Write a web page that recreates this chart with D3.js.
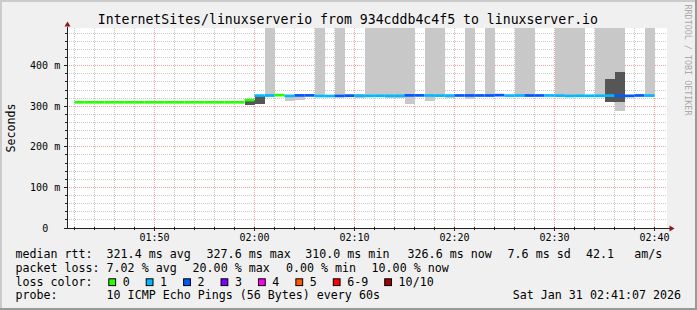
<!DOCTYPE html>
<html>
<head>
<meta charset="utf-8">
<script src="https://cdn.jsdelivr.net/npm/d3@7"></script>
<style>
  html, body { margin: 0; padding: 0; background: #f0f0f0; }
  svg { display: block; }
  text { font-family: 'DejaVu Sans Mono', monospace; white-space: pre; fill: #000; }
</style>
</head>
<body>
<svg id="chart" width="697" height="310"></svg>
<script>
'use strict'

// one value per minute, starting 01:42
const firstMinute = new Date(2026, 0, 31, 1, 42)

const medianMs = [
  310, 310, 310, 310, 310, 310, 310, 310, 310, 310, 310, 310, 310, 310, 310, 310, 310, // 01:42 - 01:58
  315.5, // 01:59
  326.5, 326.8, 327.6, 325.8, 327.0, 327.0, 325.5, 325.5, 325.6, 326.2, // 02:00 - 02:09
  326.2, 325.8, 326.0, 326.0, 326.0, 327.0, 327.0, 326.8, 326.5, 326.5, // 02:10 - 02:19
  326.8, 326.8, 326.8, 326.8, 327.5, 326.5, 326.8, 326.8, 326.8, 326.8, // 02:20 - 02:29
  326.5, 325.6, 326.0, 326.0, 326.0, 326.5, 326.0, 325.8, 326.8, 326.6  // 02:30 - 02:39
]

// lost pings out of 10
const lossCount = [
  0, 0, 0, 0, 0, 0, 0, 0, 0, 0, 0, 0, 0, 0, 0, 0, 0,
  0,
  1, 1, 0, 1, 2, 2, 1, 1, 2, 2,
  1, 1, 1, 1, 1, 2, 2, 1, 1, 1,
  2, 2, 2, 2, 2, 1, 1, 2, 2, 1,
  1, 1, 1, 1, 1, 1, 2, 2, 2, 1
]

// light smoke (ping spread), ms
const smokeLo = [
  null, null, null, null, null, null, null, null, null, null, null, null, null, null, null, null, null,
  null,
  null, 323, null, 313.8, 315.5, null, 322, null, 322, 323,
  321, 322, 322, 320, 320, 305.7, null, 313.8, 322, 321,
  null, 317.2, null, 322, null, null, 322, 322, null, null,
  322, 322, 322, null, 322, 322, 289, 322, null, 322
]
const smokeHi = [
  null, null, null, null, null, null, null, null, null, null, null, null, null, null, null, null, null,
  null,
  null, 500, null, 326, 327, null, 500, null, 500, 330,
  330, 500, 500, 500, 500, 500, null, 500, 500, 327,
  null, 500, null, 500, null, null, 500, 500, null, null,
  500, 500, 500, null, 500, 500, 500, 327.5, null, 500
]

// dense smoke, ms
const darkLo = [
  null, null, null, null, null, null, null, null, null, null, null, null, null, null, null, null, null,
  303.2,
  305.7, null, null, null, null, null, null, null, null, null,
  null, null, null, null, null, null, null, null, null, null,
  null, null, null, null, null, null, null, null, null, null,
  null, null, null, null, null, 311.3, 311.3, null, null, null
]
const darkHi = [
  null, null, null, null, null, null, null, null, null, null, null, null, null, null, null, null, null,
  316,
  326, null, null, null, null, null, null, null, null, null,
  null, null, null, null, null, null, null, null, null, null,
  null, null, null, null, null, null, null, null, null, null,
  null, null, null, null, null, 366.5, 383.8, null, null, null
]

const yTicks = [0, 100, 200, 300, 400]
const yTickLabels = ['0  ', '100 m', '200 m', '300 m', '400 m']

const lossLabels = ['0', '1', '2', '3', '4', '5', '6-9', '10/10']
const lossColors = ['#26ff00', '#00b8ff', '#0059ff', '#7e00ff', '#ff00ef', '#ff5a00', '#ff0000', '#a10000']

const titleText = 'InternetSites/linuxserverio from 934cddb4c4f5 to linuxserver.io'
const rttItems = ['median rtt:', '321.4 ms avg', '327.6 ms max', '310.0 ms min', '326.6 ms now', '7.6 ms sd', '42.1', 'am/s']
const lossItems = ['packet loss:', '7.02 % avg', '20.00 % max', '0.00 % min', '10.00 % now']
const probeItems = ['probe:', '10 ICMP Echo Pings (56 Bytes) every 60s']
const stampText = 'Sat Jan 31 02:41:07 2026'

const width = 697
const height = 310
const svg = d3.select('#chart')

const x = d3.scaleTime()
  .domain([new Date(2026, 0, 31, 1, 41, 15), new Date(2026, 0, 31, 2, 41, 15)])
  .range([67, 667])
const y = d3.scaleLinear()
  .domain([0, 493])
  .range([228, 28])

const minutes = medianMs.map((d, i) => d3.timeMinute.offset(firstMinute, i))
const rows = minutes.map((t, i) => ({
  t0: t,
  t1: d3.timeMinute.offset(t, 1),
  median: medianMs[i],
  loss: lossCount[i],
  lo: smokeLo[i],
  hi: smokeHi[i],
  dlo: darkLo[i],
  dhi: darkHi[i]
}))

function lossColor (n) {
  if (n <= 5) return lossColors[n]
  if (n < 10) return lossColors[6]
  return lossColors[7]
}

// frame
svg.append('rect').attr('width', width).attr('height', height).attr('fill', '#f0f0f0')
svg.append('rect').attr('x', 0).attr('y', 0).attr('width', width).attr('height', 2).attr('fill', '#cbcbcb')
svg.append('rect').attr('x', 0).attr('y', 0).attr('width', 2).attr('height', height).attr('fill', '#cbcbcb')
svg.append('rect').attr('x', 0).attr('y', height - 2).attr('width', width).attr('height', 2).attr('fill', '#999')
svg.append('rect').attr('x', width - 2).attr('y', 0).attr('width', 2).attr('height', height).attr('fill', '#999')

const [x0, x1] = x.range()
const [yb, yt] = y.range()

svg.append('rect')
  .attr('x', x0).attr('y', yt)
  .attr('width', x1 - x0).attr('height', yb - yt)
  .attr('fill', '#fff')

// grid
const grid = svg.append('g').attr('shape-rendering', 'crispEdges')
const crisp = v => Math.floor(v) + 0.5

const minorX = d3.timeMinute.every(2).range(...x.domain())
const majorX = d3.timeMinute.every(10).range(...x.domain())
const minorY = d3.range(20, 493, 20).filter(v => v % 100 !== 0)

grid.selectAll('.vx')
  .data(minorX.filter(t => t.getMinutes() % 10 !== 0))
  .enter().append('line')
  .attr('x1', d => crisp(x(d))).attr('x2', d => crisp(x(d)))
  .attr('y1', yt).attr('y2', yb)
  .attr('stroke', '#c8c8c8').attr('stroke-dasharray', '1,1')

grid.selectAll('.hy')
  .data(minorY)
  .enter().append('line')
  .attr('x1', x0).attr('x2', x1)
  .attr('y1', d => crisp(y(d))).attr('y2', d => crisp(y(d)))
  .attr('stroke', '#c8c8c8').attr('stroke-dasharray', '1,1')

grid.selectAll('.mx')
  .data(majorX)
  .enter().append('line')
  .attr('x1', d => crisp(x(d))).attr('x2', d => crisp(x(d)))
  .attr('y1', yt).attr('y2', yb)
  .attr('stroke', '#f2a0a0').attr('stroke-dasharray', '1,1')

grid.selectAll('.my')
  .data(yTicks.filter(v => v > 0))
  .enter().append('line')
  .attr('x1', x0).attr('x2', x1)
  .attr('y1', d => crisp(y(d))).attr('y2', d => crisp(y(d)))
  .attr('stroke', '#f2a0a0').attr('stroke-dasharray', '1,1')

// smoke
svg.append('clipPath').attr('id', 'plot')
  .append('rect').attr('x', x0).attr('y', yt).attr('width', x1 - x0).attr('height', yb - yt)

const plot = svg.append('g').attr('clip-path', 'url(#plot)').attr('shape-rendering', 'crispEdges')

plot.selectAll('.smoke')
  .data(rows.filter(d => d.lo !== null))
  .enter().append('rect')
  .attr('x', d => x(d.t0))
  .attr('width', d => x(d.t1) - x(d.t0))
  .attr('y', d => y(d.hi))
  .attr('height', d => y(d.lo) - y(d.hi))
  .attr('fill', '#c8c8c8')

plot.selectAll('.dark')
  .data(rows.filter(d => d.dlo !== null))
  .enter().append('rect')
  .attr('x', d => x(d.t0))
  .attr('width', d => x(d.t1) - x(d.t0))
  .attr('y', d => y(d.dhi))
  .attr('height', d => y(d.dlo) - y(d.dhi))
  .attr('fill', '#565656')

// median rtt, coloured by loss
plot.selectAll('.median')
  .data(rows)
  .enter().append('rect')
  .attr('x', d => x(d.t0))
  .attr('width', d => x(d.t1) - x(d.t0))
  .attr('y', d => y(d.median) - 1.3)
  .attr('height', 2.7)
  .attr('fill', d => lossColor(d.loss))
  .attr('shape-rendering', 'auto')

// axes
const axis = svg.append('g').attr('shape-rendering', 'crispEdges')
axis.append('line')
  .attr('x1', x0 - 0.5).attr('x2', x1 + 3)
  .attr('y1', yb + 0.5).attr('y2', yb + 0.5)
  .attr('stroke', '#222')
axis.append('line')
  .attr('x1', x0 + 0.5).attr('x2', x0 + 0.5)
  .attr('y1', yb + 0.5).attr('y2', yt - 1)
  .attr('stroke', '#222')

axis.selectAll('.tx')
  .data(minorX)
  .enter().append('line')
  .attr('x1', d => crisp(x(d))).attr('x2', d => crisp(x(d)))
  .attr('y1', yb - 1).attr('y2', d => yb + (d.getMinutes() % 10 === 0 ? 3 : 2))
  .attr('stroke', '#222')

axis.selectAll('.ty')
  .data(minorY.concat(yTicks))
  .enter().append('line')
  .attr('x1', d => x0 - (d % 100 === 0 ? 3 : 2)).attr('x2', x0 + 1)
  .attr('y1', d => crisp(y(d))).attr('y2', d => crisp(y(d)))
  .attr('stroke', '#222')

svg.append('path')
  .attr('d', `M${x0 + 0.5},${yt - 6.5}L${x0 - 2.5},${yt - 1.5}L${x0 + 3.5},${yt - 1.5}Z`)
  .attr('fill', '#8b1818')
svg.append('path')
  .attr('d', `M${x1 + 7.5},${yb + 0.5}L${x1 + 2.5},${yb - 2.5}L${x1 + 2.5},${yb + 3.5}Z`)
  .attr('fill', '#8b1818')

// axis labels
const fmt = d3.timeFormat('%H:%M')
svg.selectAll('.xl')
  .data(majorX)
  .enter().append('text')
  .attr('x', d => x(d))
  .attr('y', 240.5)
  .attr('text-anchor', 'middle')
  .attr('font-size', 10)
  .text(fmt)

svg.selectAll('.yl')
  .data(yTicks)
  .enter().append('text')
  .attr('x', 60.2)
  .attr('y', d => y(d) + 3.6)
  .attr('text-anchor', 'end')
  .attr('font-size', 10)
  .text((d, i) => yTickLabels[i])

svg.append('text')
  .attr('transform', `translate(14.8,${(yt + yb) / 2}) rotate(-90)`)
  .attr('text-anchor', 'middle')
  .attr('font-size', 11.65)
  .text('Seconds')

svg.append('text')
  .attr('x', 347.9)
  .attr('y', 24)
  .attr('text-anchor', 'middle')
  .attr('font-size', 13.2)
  .text(titleText)

svg.append('text')
  .attr('transform', 'translate(685.3,4.5) rotate(90)')
  .attr('font-size', 8.4)
  .style('fill', '#aaa')
  .text('RRDTOOL / TOBI OETIKER')

// legend
const legendFont = 11.65
const charW = legendFont * 0.602
const lineY = [258, 271.8, 285.6, 299.3]

const rttX = [15.5, 106.6, 206.6, 305.3, 407.6, 507.6, 586, 634.3]
svg.selectAll('.rtt')
  .data(rttItems)
  .enter().append('text')
  .attr('x', (d, i) => rttX[i])
  .attr('y', lineY[0])
  .attr('font-size', legendFont)
  .text(d => d)

const lossX = [15.5, 106.6, 192.6, 286, 371.6]
svg.selectAll('.loss')
  .data(lossItems)
  .enter().append('text')
  .attr('x', (d, i) => lossX[i])
  .attr('y', lineY[1])
  .attr('font-size', legendFont)
  .text(d => d)

svg.append('text')
  .attr('x', 15.5).attr('y', lineY[2])
  .attr('font-size', legendFont)
  .text('loss color:')

let boxX = 108.3
lossLabels.forEach((label, i) => {
  svg.append('rect')
    .attr('x', boxX + 0.5).attr('y', 278.8)
    .attr('width', 6.8).attr('height', 6.8)
    .attr('fill', lossColors[i])
    .attr('stroke', '#000')
    .attr('stroke-width', 1)
  const lx = boxX + 14.4
  svg.append('text')
    .attr('x', lx).attr('y', lineY[2])
    .attr('font-size', legendFont)
    .text(label)
  boxX = lx + label.length * charW + 16
})

svg.selectAll('.probe')
  .data(probeItems)
  .enter().append('text')
  .attr('x', (d, i) => [15.5, 106.6][i])
  .attr('y', lineY[3])
  .attr('font-size', legendFont)
  .text(d => d)

svg.append('text')
  .attr('x', 681).attr('y', lineY[3])
  .attr('text-anchor', 'end')
  .attr('font-size', legendFont)
  .text(stampText)
</script>
</body>
</html>
